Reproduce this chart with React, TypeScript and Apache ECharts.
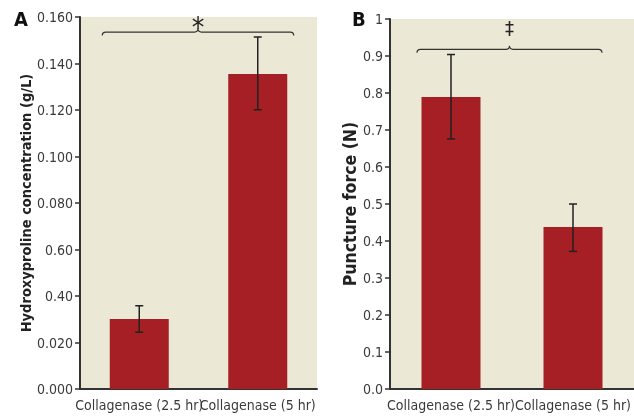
import React, { useEffect, useRef } from "react";
import * as echarts from "echarts";

const categories = ["Collagenase (2.5 hr)", "Collagenase (5 hr)"];
const hydroxyMeans = [0.0301, 0.1355];
const hydroxyErrLow = [0.0244, 0.1201];
const hydroxyErrHigh = [0.0358, 0.1514];
const punctureMeans = [0.789, 0.438];
const punctureErrLow = [0.676, 0.372];
const punctureErrHigh = [0.904, 0.5];
const tickLabelsA = ["0.000", "0.020", "0.40", "0.60", "0.080", "0.100", "0.120", "0.140", "0.160"];
const tickLabelsB = ["0.0", "0.1", "0.2", "0.3", "0.4", "0.5", "0.6", "0.7", "0.8", "0.9", "1"];
const titleA = "Hydroxyproline concentration (g/L)";
const titleB = "Puncture force (N)";
const sigA = "*";
const sigB = "‡";

const FONT = '"Liberation Sans Narrow", "DejaVu Sans Condensed", "Roboto Condensed", sans-serif';
const BG = "#ECE8D6";
const BAR = "#A51F24";
const INK = "#333333";

echarts.graphic.registerShape(
  "brace",
  echarts.graphic.extendShape({
    shape: { x1: 0, x2: 0, y: 0 },
    buildPath(ctx: any, s: any) {
      const xm = (s.x1 + s.x2) / 2;
      const r = 3.5;
      ctx.moveTo(s.x1, s.y + r);
      ctx.quadraticCurveTo(s.x1, s.y, s.x1 + r, s.y);
      ctx.lineTo(xm - r, s.y);
      ctx.quadraticCurveTo(xm, s.y, xm, s.y - r);
      ctx.quadraticCurveTo(xm, s.y, xm + r, s.y);
      ctx.lineTo(s.x2 - r, s.y);
      ctx.quadraticCurveTo(s.x2, s.y, s.x2, s.y + r);
    },
  }) as any
);

function errorSeries(low: number[], high: number[], xi: number, yi: number) {
  return {
    type: "custom",
    xAxisIndex: xi,
    yAxisIndex: yi,
    z: 5,
    data: low.map((l, i) => [i, l, high[i]]),
    renderItem(params: any, api: any) {
      const x = api.value(0);
      const lo = api.coord([x, api.value(1)]);
      const hi = api.coord([x, api.value(2)]);
      const w = 4;
      const style = { stroke: "#222", lineWidth: 1.5 };
      return {
        type: "group",
        children: [
          { type: "line", shape: { x1: lo[0], y1: lo[1], x2: hi[0], y2: hi[1] }, style },
          { type: "line", shape: { x1: lo[0] - w, y1: lo[1], x2: lo[0] + w, y2: lo[1] }, style },
          { type: "line", shape: { x1: hi[0] - w, y1: hi[1], x2: hi[0] + w, y2: hi[1] }, style },
        ],
      };
    },
  };
}

function yAxis(gridIndex: number, max: number, interval: number, labels: string[], name: string, nameGap: number, nameSize: number) {
  return {
    type: "value",
    gridIndex,
    min: 0,
    max,
    interval,
    splitLine: { show: false },
    axisLine: { show: true, lineStyle: { color: INK, width: 2 } },
    axisTick: { show: true, length: 5, lineStyle: { color: INK, width: 1.5 } },
    axisLabel: {
      color: "#3a3a3a",
      fontFamily: FONT,
      fontSize: 14,
      margin: 7,
      formatter: (_v: number, idx: number) => labels[idx] ?? "",
    },
    name,
    nameLocation: "middle",
    nameGap,
    nameTextStyle: { color: "#222", fontFamily: FONT, fontSize: nameSize, fontWeight: "bold" },
  };
}

function xAxis(gridIndex: number) {
  return {
    type: "category",
    gridIndex,
    data: categories,
    axisLine: { show: true, lineStyle: { color: INK, width: 2 } },
    axisTick: { show: false },
    axisLabel: { interval: 0, color: "#3a3a3a", fontFamily: FONT, fontSize: 14, margin: 9 },
  };
}

export default function App() {
  const ref = useRef<HTMLDivElement>(null);
  useEffect(() => {
    if (!ref.current) return;
    const chart = echarts.init(ref.current, undefined, { renderer: "svg" });
    chart.setOption({
      animation: false,
      grid: [
        { left: 80, top: 17, width: 237, height: 372, show: true, backgroundColor: BG, borderWidth: 0 },
        { left: 390, top: 19, width: 259, height: 370, show: true, backgroundColor: BG, borderWidth: 0 },
      ],
      xAxis: [xAxis(0), xAxis(1)],
      yAxis: [
        yAxis(0, 0.16, 0.02, tickLabelsA, titleA, 47, 14.5),
        yAxis(1, 1, 0.1, tickLabelsB, titleB, 27, 17.5),
      ],
      series: [
        { type: "bar", xAxisIndex: 0, yAxisIndex: 0, data: hydroxyMeans, barWidth: 59, itemStyle: { color: BAR } },
        errorSeries(hydroxyErrLow, hydroxyErrHigh, 0, 0),
        { type: "bar", xAxisIndex: 1, yAxisIndex: 1, data: punctureMeans, barWidth: 59, itemStyle: { color: BAR } },
        errorSeries(punctureErrLow, punctureErrHigh, 1, 1),
      ],
    });
    const a0 = chart.convertToPixel({ gridIndex: 0 } as any, [0, 0.1535]) as number[];
    const a1 = chart.convertToPixel({ gridIndex: 0 } as any, [1, 0.1535]) as number[];
    const b0 = chart.convertToPixel({ gridIndex: 1 } as any, [0, 0.918]) as number[];
    const b1 = chart.convertToPixel({ gridIndex: 1 } as any, [1, 0.918]) as number[];
    const ax1 = a0[0] - 37, ax2 = a1[0] + 36;
    const bx1 = b0[0] - 34, bx2 = b1[0] + 29;
    chart.setOption({
      graphic: [
        { type: "text", left: 14, top: 9, style: { text: "A", font: `bold 20px ${FONT}`, fill: "#111" } },
        { type: "text", left: 352, top: 9, style: { text: "B", font: `bold 20px ${FONT}`, fill: "#111" } },
        { type: "brace", shape: { x1: ax1, x2: ax2, y: a0[1] }, style: { stroke: "#333", lineWidth: 1.2, fill: null } },
        { type: "brace", shape: { x1: bx1, x2: bx2, y: b0[1] }, style: { stroke: "#333", lineWidth: 1.2, fill: null } },
        { type: "text", x: (ax1 + ax2) / 2, y: a0[1] - 5, style: { text: sigA, font: `28px ${FONT}`, fill: "#222", align: "center", verticalAlign: "middle" } },
        { type: "text", x: (bx1 + bx2) / 2, y: b0[1] - 21, style: { text: sigB, font: `20px ${FONT}`, fill: "#222", align: "center", verticalAlign: "middle" } },
      ],
    });
    return () => chart.dispose();
  }, []);
  return <div ref={ref} style={{ position: "fixed", left: 0, top: 0, width: 634, height: 418 }} />;
}
